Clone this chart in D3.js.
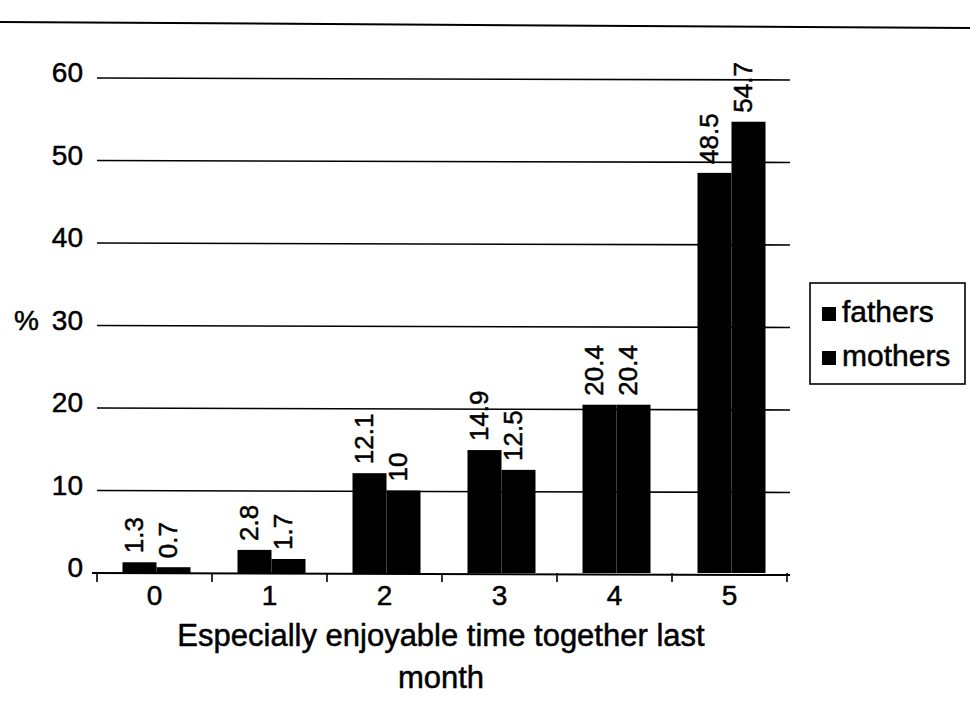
<!DOCTYPE html>
<html>
<head>
<meta charset="utf-8">
<script src="https://cdn.jsdelivr.net/npm/d3@7"></script>
<style>
  body { margin: 0; background: #fff; }
  svg text { font-family: "Liberation Sans", Arial, sans-serif; fill: #000; stroke: #000; stroke-width: 0.5px; }
</style>
</head>
<body>
<svg id="chart" width="970" height="714"></svg>
<script>
var categories = ["0", "1", "2", "3", "4", "5"];
var seriesNames = ["fathers", "mothers"];
var fathers = [1.3, 2.8, 12.1, 14.9, 20.4, 48.5];
var mothers = [0.7, 1.7, 10, 12.5, 20.4, 54.7];
var fatherLabels = ["1.3", "2.8", "12.1", "14.9", "20.4", "48.5"];
var motherLabels = ["0.7", "1.7", "10", "12.5", "20.4", "54.7"];
var yTicks = [0, 10, 20, 30, 40, 50, 60];

var svg = d3.select("#chart");

var x = d3.scaleBand().domain(categories).range([97, 787]);
var xs = d3.scaleBand().domain(seriesNames).range([0, 68]);
var y = d3.scaleLinear().domain([0, 60]).range([573, 78]);

function barX(d) {
  return x(d.cat) + (x.bandwidth() - 68) / 2 + 2 + xs(d.s);
}

// rule across the top of the page
svg.append("line")
  .attr("x1", 0).attr("x2", 970)
  .attr("y1", 22).attr("y2", 28)
  .attr("stroke", "#000").attr("stroke-width", 2);

// gridlines
svg.selectAll(".grid")
  .data(yTicks.slice(1))
  .enter()
  .append("line")
  .attr("x1", 97).attr("x2", 790)
  .attr("y1", function(d) { return y(d); })
  .attr("y2", function(d) { return y(d) + 2; })
  .attr("stroke", "#000").attr("stroke-width", 1.6);

// y labels
svg.selectAll(".ylab")
  .data(yTicks)
  .enter()
  .append("text")
  .attr("x", 83)
  .attr("y", function(d) { return y(d) + 4; })
  .attr("text-anchor", "end")
  .attr("font-size", 28)
  .text(function(d) { return d; });

svg.append("text")
  .attr("x", 14).attr("y", y(30) + 4)
  .attr("font-size", 28)
  .text("%");

// bars
var rows = categories.map(function(c, i) {
  return [
    { cat: c, s: "fathers", v: fathers[i], lab: fatherLabels[i] },
    { cat: c, s: "mothers", v: mothers[i], lab: motherLabels[i] }
  ];
});
var flat = [].concat.apply([], rows);

svg.selectAll(".bar")
  .data(flat)
  .enter()
  .append("rect")
  .attr("x", barX)
  .attr("width", xs.bandwidth())
  .attr("y", function(d) { return y(d.v); })
  .attr("height", function(d) { return y(0) - y(d.v); })
  .attr("fill", "#000");

// value labels (rotated)
svg.selectAll(".val")
  .data(flat)
  .enter()
  .append("text")
  .attr("transform", function(d) {
    var cx = barX(d) + xs.bandwidth() / 2 + 3;
    var cy = y(d.v) - 9;
    return "translate(" + cx + "," + cy + ") rotate(-90)";
  })
  .attr("font-size", 26)
  .text(function(d) { return d.lab; });

// x axis
svg.append("line")
  .attr("x1", 92).attr("x2", 790)
  .attr("y1", y(0)).attr("y2", y(0) + 2)
  .attr("stroke", "#000").attr("stroke-width", 2);

var tickPos = categories.map(function(c) { return x(c); }).concat([x.range()[1]]);
svg.selectAll(".xtick")
  .data(tickPos)
  .enter()
  .append("line")
  .attr("x1", function(d) { return d; })
  .attr("x2", function(d) { return d; })
  .attr("y1", y(0)).attr("y2", y(0) + 9)
  .attr("stroke", "#000").attr("stroke-width", 1.6);

svg.selectAll(".xlab")
  .data(categories)
  .enter()
  .append("text")
  .attr("x", function(d) { return x(d) + x.bandwidth() / 2; })
  .attr("y", 605)
  .attr("text-anchor", "middle")
  .attr("font-size", 28)
  .text(function(d) { return d; });

svg.append("text")
  .attr("x", 441).attr("y", 646)
  .attr("text-anchor", "middle")
  .attr("font-size", 31)
  .text("Especially enjoyable time together last");
svg.append("text")
  .attr("x", 441).attr("y", 688)
  .attr("text-anchor", "middle")
  .attr("font-size", 31)
  .text("month");

// legend
var legend = svg.append("g");
legend.append("rect")
  .attr("x", 810).attr("y", 283)
  .attr("width", 155).attr("height", 101)
  .attr("fill", "none").attr("stroke", "#000").attr("stroke-width", 1.6);

legend.selectAll(".li")
  .data(seriesNames)
  .enter()
  .append("rect")
  .attr("x", 822)
  .attr("y", function(d, i) { return 307 + i * 44; })
  .attr("width", 14).attr("height", 14)
  .attr("fill", "#000");

legend.selectAll(".lt")
  .data(seriesNames)
  .enter()
  .append("text")
  .attr("x", 842)
  .attr("y", function(d, i) { return 322 + i * 44; })
  .attr("font-size", 30)
  .text(function(d) { return d; });
</script>
</body>
</html>
